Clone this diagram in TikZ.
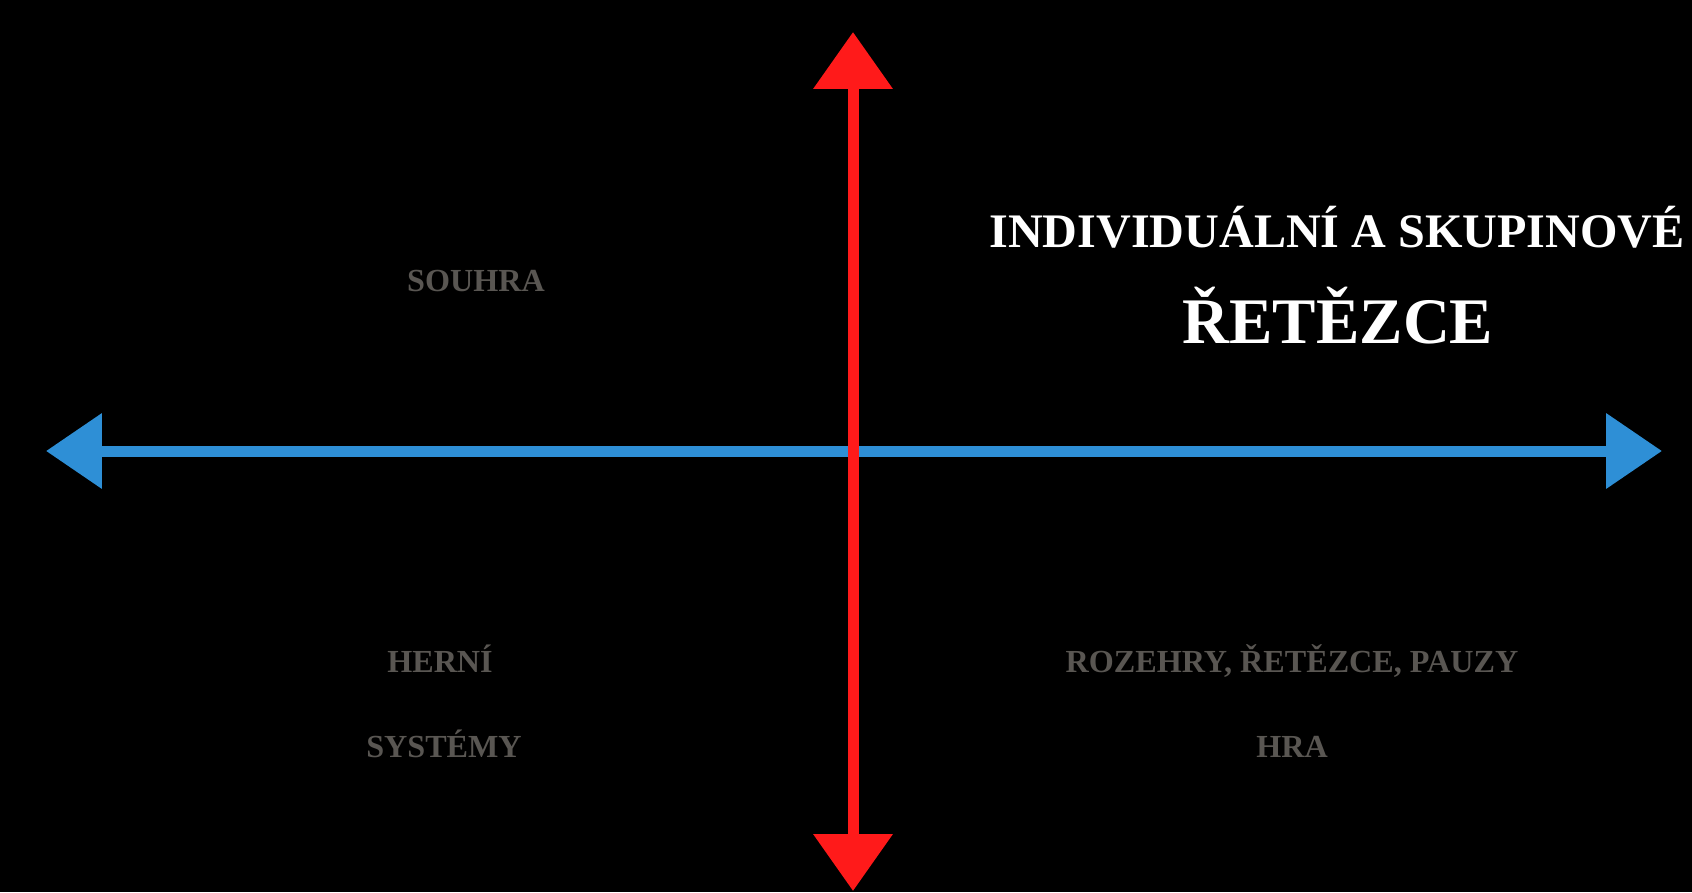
\documentclass[tikz,border=0pt]{standalone}
\usepackage{fontspec}
\setmainfont{Liberation Serif}
\usepackage{tikz}
\usetikzlibrary{arrows.meta, positioning}
\usepackage{xcolor}
\definecolor{myred}{RGB}{255, 26, 26}
\definecolor{myblue}{RGB}{46, 143, 214}
\definecolor{mygray}{RGB}{89, 86, 82}

\tikzset{
    quadlabel/.style={anchor=base, inner sep=0pt, text=mygray, font=\fontsize{18.3}{22}\selectfont\bfseries},
    titlelabel/.style={anchor=base, inner sep=0pt, text=white, font=\bfseries},
    axis/.style={line width=0.22cm}
}

\begin{document}
\begin{tikzpicture}[x=0.02cm, y=-0.02cm]
                % --- Pozadí ---
                \fill[black] (0, 0) rectangle (1692, 892);
                \useasboundingbox (0, 0) rectangle (1692, 892);

                % --- Osy ---
                \coordinate (left) at (46, 451);
                \coordinate (right) at (1662, 451);
                \coordinate (top) at (853, 32);
                \coordinate (bottom) at (853, 891);

                % Vodorovná osa (modrá)
                \draw[axis, myblue, {Triangle[length=1.12cm, width=1.46cm]}-{Triangle[length=1.12cm, width=1.46cm]}] (left) -- (right);

                % Svislá osa (červená)
                \draw[axis, myred, {Triangle[length=1.14cm, width=1.54cm]}-{Triangle[length=1.14cm, width=1.54cm]}] (bottom) -- (top);

                % --- Nadpis vpravo nahoře ---
                \node[titlelabel, font=\fontsize{27.4}{32}\selectfont\bfseries] (title) at (1337, 247) {INDIVIDUÁLNÍ A SKUPINOVÉ};
                \node[titlelabel, font=\fontsize{37}{42}\selectfont\bfseries] (chains) at (1338, 343) {ŘETĚZCE};

                % --- Kvadranty ---
                \node[quadlabel] (souhra) at (476, 291) {SOUHRA};
                \node[quadlabel] (herni) at (440, 672) {HERNÍ};
                \node[quadlabel] (systemy) at (444, 757) {SYSTÉMY};
                \node[quadlabel] (rozehry) at (1292, 672) {ROZEHRY, ŘETĚZCE, PAUZY};
                \node[quadlabel] (hra) at (1292, 757) {HRA};

            \end{tikzpicture}
\end{document}
